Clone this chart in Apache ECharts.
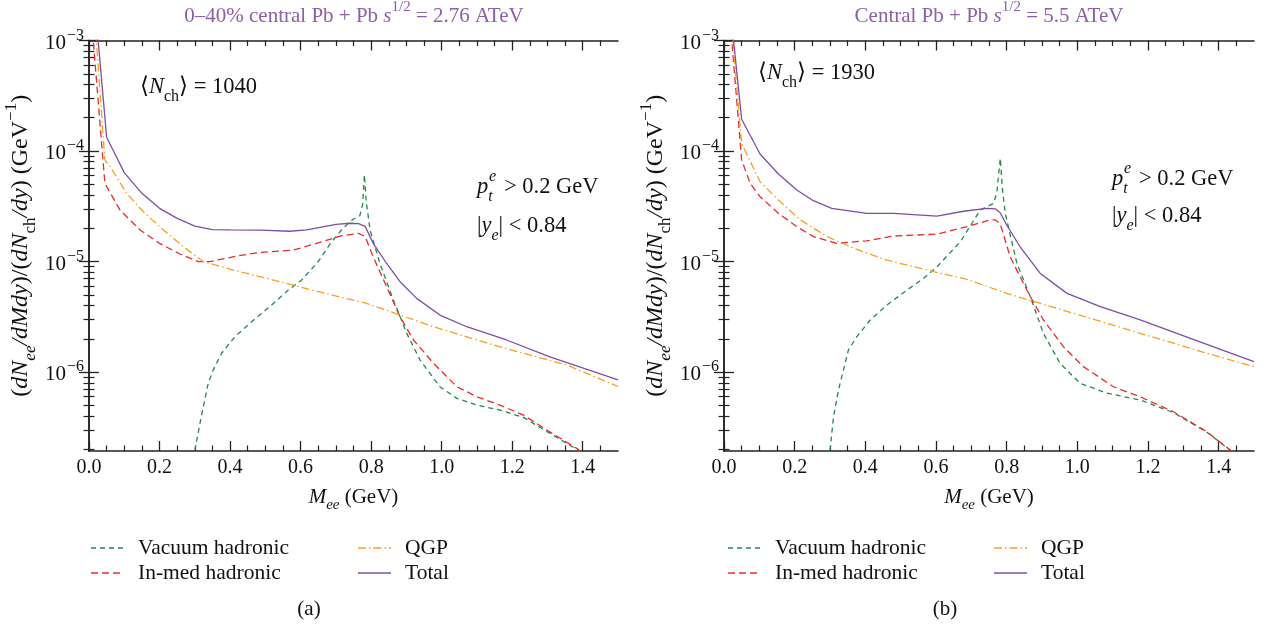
<!DOCTYPE html>
<html><head><meta charset="utf-8">
<script src="https://cdn.jsdelivr.net/npm/echarts@6/dist/echarts.min.js"></script>
<style>html,body{margin:0;padding:0;background:#fff}#c{width:1270px;height:628px}</style>
</head><body><div id="c"></div>
<script>
// ---------- tick definitions ----------
const xMajorTicks = [0.0, 0.2, 0.4, 0.6, 0.8, 1.0, 1.2, 1.4];
const xMinorTicks = [0.05, 0.1, 0.15, 0.25, 0.3, 0.35, 0.45, 0.5, 0.55, 0.65, 0.7, 0.75, 0.85, 0.9, 0.95, 1.05, 1.1, 1.15, 1.25, 1.3, 1.35, 1.45];
const yMajorTicks = [1e-6, 1e-5, 1e-4, 1e-3];
const yMinorMultipliers = [2, 3, 4, 5, 6, 7, 8, 9];
const yDecades = [1e-7, 1e-6, 1e-5, 1e-4];

// ---------- panel (a): 0-40% Pb+Pb 2.76 ATeV ----------
const vacuumA_M = [0.30, 0.32, 0.338, 0.352, 0.376, 0.414, 0.461, 0.518, 0.565, 0.603, 0.65, 0.688, 0.72, 0.748, 0.768, 0.776, 0.781, 0.786, 0.797, 0.825, 0.863, 0.901, 0.939, 0.995, 1.043, 1.10, 1.165, 1.232, 1.298, 1.383, 1.45];
const vacuumA = [1.95e-7, 4.2e-7, 7.9e-7, 1.04e-6, 1.48e-6, 2.09e-6, 2.85e-6, 4.04e-6, 5.52e-6, 6.8e-6, 1.0e-5, 1.51e-5, 2.0e-5, 2.4e-5, 2.6e-5, 3.3e-5, 6.1e-5, 3.5e-5, 1.93e-5, 9.6e-6, 4.49e-6, 2.24e-6, 1.28e-6, 7.36e-7, 5.78e-7, 5.02e-7, 4.53e-7, 3.89e-7, 2.9e-7, 2.0e-7, 1.4e-7];
const inmedA_M = [0.01, 0.045, 0.088, 0.145, 0.2, 0.258, 0.31, 0.343, 0.419, 0.485, 0.58, 0.645, 0.712, 0.764, 0.783, 0.806, 0.844, 0.882, 0.92, 0.977, 1.043, 1.10, 1.165, 1.232, 1.298, 1.383, 1.45];
const inmedA = [1.2e-3, 5.1e-5, 2.92e-5, 1.93e-5, 1.46e-5, 1.17e-5, 1.0e-5, 1.0e-5, 1.12e-5, 1.21e-5, 1.27e-5, 1.46e-5, 1.7e-5, 1.8e-5, 1.68e-5, 1.1e-5, 5.9e-6, 3.16e-6, 1.95e-6, 1.2e-6, 7.36e-7, 5.97e-7, 5.02e-7, 4.08e-7, 2.99e-7, 2.04e-7, 1.4e-7];
const qgpA_M = [0.01, 0.045, 0.06, 0.107, 0.154, 0.211, 0.268, 0.324, 0.409, 0.504, 0.598, 0.688, 0.787, 0.977, 1.165, 1.354, 1.5];
const qgpA = [3.1e-3, 8.3e-5, 7.2e-5, 4.14e-5, 2.82e-5, 1.93e-5, 1.36e-5, 1.0e-5, 8.38e-6, 7.05e-6, 5.9e-6, 4.98e-6, 4.19e-6, 2.57e-6, 1.69e-6, 1.16e-6, 7.4e-7];
const totalA_M = [0.01, 0.05, 0.10, 0.15, 0.20, 0.25, 0.30, 0.35, 0.40, 0.485, 0.57, 0.617, 0.663, 0.70, 0.74, 0.764, 0.783, 0.806, 0.844, 0.882, 0.929, 0.995, 1.071, 1.184, 1.307, 1.5];
const totalA = [3.8e-3, 1.33e-4, 6.37e-5, 4.14e-5, 3.03e-5, 2.46e-5, 2.09e-5, 1.94e-5, 1.93e-5, 1.92e-5, 1.88e-5, 1.93e-5, 2.06e-5, 2.17e-5, 2.22e-5, 2.2e-5, 2.08e-5, 1.46e-5, 9.6e-6, 6.57e-6, 4.64e-6, 3.28e-6, 2.57e-6, 1.95e-6, 1.37e-6, 8.5e-7];

// ---------- panel (b): central Pb+Pb 5.5 ATeV ----------
const vacuumB_M = [0.30, 0.31, 0.324, 0.338, 0.352, 0.376, 0.414, 0.461, 0.518, 0.565, 0.603, 0.669, 0.725, 0.763, 0.772, 0.782, 0.788, 0.796, 0.829, 0.867, 0.904, 0.951, 1.008, 1.083, 1.178, 1.272, 1.367, 1.433, 1.47];
const vacuumB = [1.95e-7, 3.94e-7, 6.87e-7, 1.04e-6, 1.58e-6, 2.09e-6, 2.96e-6, 4.04e-6, 5.52e-6, 7.05e-6, 8.97e-6, 1.51e-5, 2.92e-5, 3.36e-5, 4.2e-5, 8.6e-5, 4.5e-5, 2.73e-5, 9.6e-6, 4.8e-6, 2.24e-6, 1.2e-6, 7.9e-7, 6.45e-7, 5.58e-7, 4.3e-7, 2.85e-7, 1.95e-7, 1.5e-7];
const inmedB_M = [0.01, 0.05, 0.074, 0.102, 0.154, 0.206, 0.253, 0.319, 0.404, 0.48, 0.603, 0.688, 0.754, 0.768, 0.782, 0.81, 0.857, 0.904, 0.961, 1.017, 1.102, 1.178, 1.272, 1.367, 1.433, 1.47];
const inmedB = [2.9e-3, 8.3e-5, 5.1e-5, 3.86e-5, 2.73e-5, 2.07e-5, 1.68e-5, 1.46e-5, 1.54e-5, 1.7e-5, 1.77e-5, 2.07e-5, 2.38e-5, 2.38e-5, 2.18e-5, 1.1e-5, 5.52e-6, 2.96e-6, 1.69e-6, 1.12e-6, 7.36e-7, 5.97e-7, 4.37e-7, 2.88e-7, 1.97e-7, 1.5e-7];
const qgpB_M = [0.01, 0.05, 0.102, 0.154, 0.216, 0.292, 0.367, 0.461, 0.593, 0.688, 0.80, 0.989, 1.178, 1.367, 1.5];
const qgpB = [3.6e-3, 1.17e-4, 5.27e-5, 3.6e-5, 2.38e-5, 1.68e-5, 1.32e-5, 1.03e-5, 8.1e-6, 6.9e-6, 5.15e-6, 3.4e-6, 2.24e-6, 1.48e-6, 1.12e-6];
const totalB_M = [0.01, 0.05, 0.102, 0.154, 0.206, 0.253, 0.305, 0.404, 0.48, 0.603, 0.678, 0.744, 0.768, 0.782, 0.80, 0.838, 0.895, 0.971, 1.065, 1.178, 1.32, 1.5];
const totalB = [3.4e-3, 1.94e-4, 9.4e-5, 6.19e-5, 4.44e-5, 3.55e-5, 3.03e-5, 2.73e-5, 2.73e-5, 2.58e-5, 2.85e-5, 3.03e-5, 3.0e-5, 2.75e-5, 2.14e-5, 1.36e-5, 7.8e-6, 5.15e-6, 3.9e-6, 2.96e-6, 2.02e-6, 1.24e-6];

const seriesNames = ['Vacuum hadronic', 'In-med hadronic', 'QGP', 'Total'];
const titles = ['0–40% central Pb + Pb ', 'Central Pb + Pb '];
const energies = [' = 2.76 ATeV', ' = 5.5 ATeV'];
const nch = ['1040', '1930'];

// ---------- styling ----------
const F = 'Liberation Serif';
const X_MIN = 0, X_MAX = 1.5, Y_MIN = 1.93e-7, Y_MAX = 1e-3;
const COLORS = { vac: '#23884a', inmed: '#ec2a2a', qgp: '#f4a21c', total: '#7d4ea8' };
const AXIS_C = '#222';
const grids = [
  { left: 89, top: 40.5, width: 529, height: 410.5 },
  { left: 724, top: 40.5, width: 530, height: 410.5 }
];
const yMinorTicks = [];
yDecades.forEach(d => yMinorMultipliers.forEach(m => yMinorTicks.push(parseFloat((m * d).toPrecision(3)))));

// rich text styles for math-like text; colorKey 'color' for components, 'fill' for graphic
function makeRich(size, color, colorKey) {
  const s = Math.round(size * 0.72);
  const lift = Math.round(size * 0.25);
  const supLift = Math.round(size * 0.8);
  const mk = (fs, italic, pad) => {
    const o = { fontSize: fs, fontFamily: F, verticalAlign: 'bottom', padding: [0, 0, pad, 0] };
    if (italic) o.fontStyle = 'italic';
    o[colorKey] = color;
    return o;
  };
  return {
    n: mk(size, false, lift), i: mk(size, true, lift),
    sub: mk(s, false, 0), subi: mk(s, true, 0),
    sup: mk(s, false, supLift), supi: mk(s, true, supLift)
  };
}

const xAxes = [], yAxes = [];
grids.forEach((g, gi) => {
  const baseX = { gridIndex: gi, type: 'value', min: X_MIN, max: X_MAX, splitLine: { show: false } };
  xAxes.push(Object.assign({}, baseX, {
    position: 'bottom',
    axisLine: { show: true, lineStyle: { color: AXIS_C, width: 1.5 } },
    axisTick: { show: true, inside: true, length: 10, customValues: xMajorTicks, lineStyle: { color: AXIS_C, width: 1.3 } },
    axisLabel: { show: true, customValues: xMajorTicks, formatter: v => v.toFixed(1), fontSize: 20, fontFamily: F, color: '#111', margin: 7 },
    name: '{i|M}{subi|ee}{n| (GeV)}', nameLocation: 'middle', nameGap: 36,
    nameTextStyle: { rich: makeRich(21, '#111', 'color') }
  }));
  xAxes.push(Object.assign({}, baseX, {
    position: 'bottom',
    axisLine: { show: false },
    axisTick: { show: true, inside: true, length: 5.5, customValues: xMinorTicks, lineStyle: { color: AXIS_C, width: 1.2 } },
    axisLabel: { show: false }
  }));
  xAxes.push(Object.assign({}, baseX, {
    position: 'top',
    axisLine: { show: true, lineStyle: { color: AXIS_C, width: 1.5 } },
    axisTick: { show: true, inside: true, length: 10, customValues: xMajorTicks, lineStyle: { color: AXIS_C, width: 1.3 } },
    axisLabel: { show: false }
  }));
  xAxes.push(Object.assign({}, baseX, {
    position: 'top',
    axisLine: { show: false },
    axisTick: { show: true, inside: true, length: 5.5, customValues: xMinorTicks, lineStyle: { color: AXIS_C, width: 1.2 } },
    axisLabel: { show: false }
  }));

  const baseY = { gridIndex: gi, type: 'log', logBase: 10, min: Y_MIN, max: Y_MAX, splitLine: { show: false } };
  yAxes.push(Object.assign({}, baseY, {
    position: 'left',
    axisLine: { show: true, lineStyle: { color: AXIS_C, width: 1.5 } },
    axisTick: { show: true, inside: true, length: 10, customValues: yMajorTicks, lineStyle: { color: AXIS_C, width: 1.3 } },
    axisLabel: {
      show: true, customValues: yMajorTicks, margin: 5,
      formatter: v => '{b|10}{s|−' + Math.round(-Math.log10(v)) + '}',
      rich: {
        b: { fontSize: 21, fontFamily: F, color: '#111', verticalAlign: 'bottom', padding: [0, 0, 0, 0] },
        s: { fontSize: 16, fontFamily: F, color: '#111', verticalAlign: 'bottom', padding: [0, 0, 10, 1] }
      }
    },
    name: '{n|(}{i|dN}{subi|ee}{i|/dMdy}{n|)/(}{i|dN}{sub|ch}{i|/dy}{n|) (GeV}{sup|−1}{n|)}',
    nameLocation: 'middle', nameGap: 50, nameRotate: 90,
    nameTextStyle: { rich: makeRich(24, '#111', 'color') }
  }));
  yAxes.push(Object.assign({}, baseY, {
    position: 'left',
    axisLine: { show: false },
    axisTick: { show: true, inside: true, length: 5.5, customValues: yMinorTicks, lineStyle: { color: AXIS_C, width: 1.2 } },
    axisLabel: { show: false }
  }));
  yAxes.push(Object.assign({}, baseY, {
    position: 'right',
    axisLine: { show: true, lineStyle: { color: AXIS_C, width: 1.5 } },
    axisTick: { show: true, inside: true, length: 10, customValues: yMajorTicks, lineStyle: { color: AXIS_C, width: 1.3 } },
    axisLabel: { show: false }
  }));
  yAxes.push(Object.assign({}, baseY, {
    position: 'right',
    axisLine: { show: false },
    axisTick: { show: true, inside: true, length: 5.5, customValues: yMinorTicks, lineStyle: { color: AXIS_C, width: 1.2 } },
    axisLabel: { show: false }
  }));
});

function pairs(M, V) { return M.map((m, i) => [m, V[i]]); }
function line(name, gi, M, V, color, dash) {
  return {
    type: 'line', name, xAxisIndex: gi * 4, yAxisIndex: gi * 4, data: pairs(M, V),
    symbol: 'none', clip: true, animation: false, z: 3,
    lineStyle: { color, width: 1.3, type: dash }, itemStyle: { color }
  };
}
const panelData = [
  [vacuumA_M, vacuumA, inmedA_M, inmedA, qgpA_M, qgpA, totalA_M, totalA],
  [vacuumB_M, vacuumB, inmedB_M, inmedB, qgpB_M, qgpB, totalB_M, totalB]
];
const series = [];
panelData.forEach((d, gi) => {
  series.push(line(seriesNames[0], gi, d[0], d[1], COLORS.vac, [5, 4]));
  series.push(line(seriesNames[1], gi, d[2], d[3], COLORS.inmed, [7, 4]));
  series.push(line(seriesNames[2], gi, d[4], d[5], COLORS.qgp, [8, 3, 1.5, 3]));
  series.push(line(seriesNames[3], gi, d[6], d[7], COLORS.total, 'solid'));
});

function legend(left, names) {
  return {
    left, top: 532, orient: 'vertical', data: names, itemWidth: 33, itemHeight: 14, itemGap: 3,
    selectedMode: false,
    itemStyle: { color: 'transparent', borderColor: 'transparent', borderWidth: 0, opacity: 0 },
    lineStyle: { opacity: 0.75 },
    textStyle: { fontSize: 21.5, fontFamily: F, color: '#111', padding: [0, 0, 0, 9] }
  };
}

const TITLE_C = '#8e5ea8';
const graphic = [];
const centers = [354, 989];
[0, 1].forEach(gi => {
  graphic.push({ type: 'text', x: centers[gi], y: 16, style: {
    text: '{n|' + titles[gi] + '}{i|s}{sup|1/2}{n|' + energies[gi] + '}', rich: makeRich(21, TITLE_C, 'fill'),
    align: 'center', verticalAlign: 'middle' } });
  graphic.push({ type: 'text', x: gi === 0 ? 309 : 945, y: 609, style: {
    text: gi === 0 ? '(a)' : '(b)', fontSize: 21, fontFamily: F, fill: '#111', align: 'center', verticalAlign: 'middle' } });
});
const annPos = [
  { nx: 140, ny: 90, px: 477, py: 190, yx: 477, yy: 229 },
  { nx: 758, ny: 76, px: 1112, py: 182, yx: 1112, yy: 219 }
];
const annRich = makeRich(22.5, '#111', 'fill');
annPos.forEach((p, gi) => {
  graphic.push({ type: 'text', x: p.nx, y: p.ny, style: {
    text: '{n|⟨}{i|N}{sub|ch}{n|⟩ = ' + nch[gi] + '}', rich: annRich, align: 'left', verticalAlign: 'middle' } });
  graphic.push({ type: 'text', x: p.px, y: p.py, style: {
    text: '{i|p}{subi|t}{n|  > 0.2 GeV}', rich: annRich, align: 'left', verticalAlign: 'middle' } });
  graphic.push({ type: 'text', x: p.px + 12, y: p.py - 13, style: {
    text: 'e', fontSize: 16, fontStyle: 'italic', fontFamily: F, fill: '#111', align: 'left', verticalAlign: 'middle' } });
  graphic.push({ type: 'text', x: p.yx, y: p.yy, style: {
    text: '{n||}{i|y}{subi|e}{n|| < 0.84}', rich: annRich, align: 'left', verticalAlign: 'middle' } });
});

const chart = echarts.init(document.getElementById('c'), null, { renderer: 'canvas' });
chart.setOption({
  backgroundColor: '#fff',
  animation: false,
  grid: grids,
  xAxis: xAxes,
  yAxis: yAxes,
  legend: [
    legend(85, [seriesNames[0], seriesNames[1]]),
    legend(352, [seriesNames[2], seriesNames[3]]),
    legend(722, [seriesNames[0], seriesNames[1]]),
    legend(988, [seriesNames[2], seriesNames[3]])
  ],
  graphic,
  series
});
</script></body></html>
